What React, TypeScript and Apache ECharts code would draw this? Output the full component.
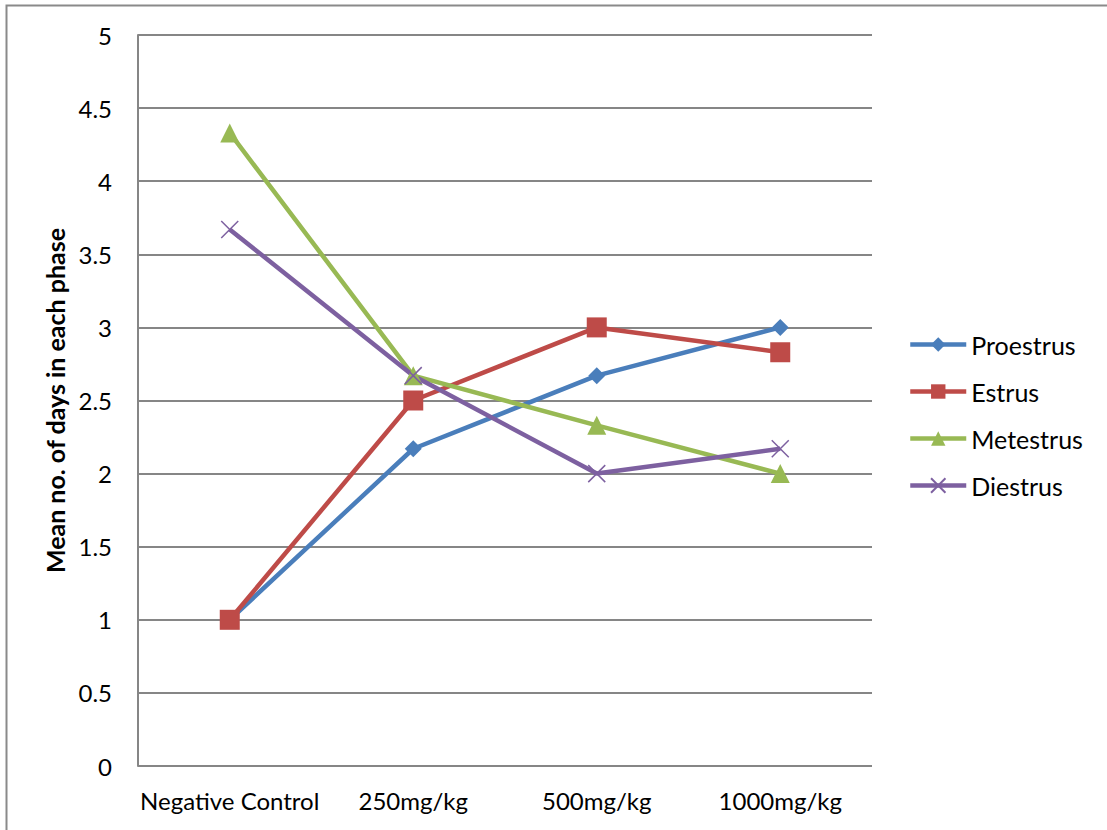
import React, { useEffect, useRef } from "react";
import * as echarts from "echarts";

const categories = ["Negative Control", "250mg/kg", "500mg/kg", "1000mg/kg"];
const proestrus = [1, 2.17, 2.67, 3];
const estrus = [1, 2.5, 3, 2.83];
const metestrus = [4.33, 2.67, 2.33, 2];
const diestrus = [3.67, 2.67, 2, 2.17];
const yTicks = { min: 0, max: 5, interval: 0.5 };

const FONT = "Lato, 'Open Sans', sans-serif";

export default function App() {
  const ref = useRef<HTMLDivElement>(null);
  useEffect(() => {
    if (!ref.current) return;
    const chart = echarts.init(ref.current, undefined, { renderer: "svg" });
    const mk = (name: string, data: number[], color: string, symbol: string, size: number, extra: any = {}) => ({
      name,
      type: "line",
      data,
      symbol,
      symbolSize: size,
      lineStyle: { color, width: 4.5 },
      itemStyle: { color, ...extra },
      emphasis: { disabled: true },
    });
    chart.setOption({
      animation: false,
      textStyle: { fontFamily: FONT },
      graphic: [
        {
          type: "rect",
          shape: { x: 6.5, y: 5.5, width: 1200, height: 900 },
          style: { fill: "none", stroke: "#8a8a8a", lineWidth: 2 },
          silent: true,
        },
      ],
      grid: { left: 138, right: 235, top: 35, bottom: 64, containLabel: false },
      legend: {
        orient: "vertical",
        left: 903,
        top: 327,
        padding: 5,
        itemWidth: 56,
        itemHeight: 18,
        itemGap: 22,
        textGap: 3,
        lineStyle: { width: 4.5 },
        textStyle: { fontSize: 25, color: "#000", fontFamily: FONT },
        data: ["Proestrus", "Estrus", "Metestrus", "Diestrus"],
      },
      xAxis: {
        type: "category",
        data: categories,
        boundaryGap: true,
        axisLine: { show: false },
        axisTick: { show: false },
        axisLabel: { color: "#000", fontSize: 24, margin: 22, interval: 0, fontFamily: FONT },
        splitLine: { show: false },
      },
      yAxis: {
        type: "value",
        min: yTicks.min,
        max: yTicks.max,
        interval: yTicks.interval,
        name: "Mean no. of days in each phase",
        nameLocation: "middle",
        nameGap: 68,
        nameTextStyle: { fontSize: 25, fontWeight: "bold", color: "#000", fontFamily: FONT },
        axisLine: { show: true, lineStyle: { color: "#868686", width: 2 } },
        axisTick: { show: false },
        axisLabel: { color: "#000", fontSize: 24, margin: 26, fontFamily: FONT },
        splitLine: { show: true, lineStyle: { color: "#868686", width: 2 } },
      },
      series: [
        mk("Proestrus", proestrus, "#4a7ebb", "diamond", 17),
        mk("Estrus", estrus, "#be4b48", "rect", 20),
        mk("Metestrus", metestrus, "#98b954", "triangle", 19),
        mk("Diestrus", diestrus, "#7d60a0", "path://M0,0L10,10M10,0L0,10", 17, {
          borderColor: "#7d60a0",
          borderWidth: 1.5,
        }),
      ],
    });
    return () => chart.dispose();
  }, []);
  return (
    <div
      ref={ref}
      style={{ position: "fixed", left: 0, top: 0, width: 1107, height: 830, background: "#fff" }}
    />
  );
}
